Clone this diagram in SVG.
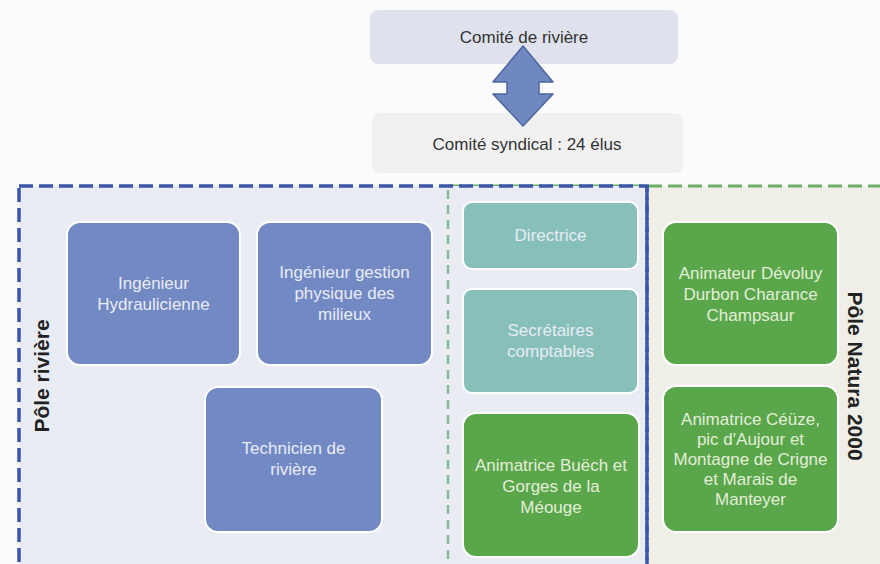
<svg xmlns="http://www.w3.org/2000/svg" width="880" height="564" viewBox="0 0 880 564">
<defs>
<style>
.t{font-family:"Liberation Sans",Arial,sans-serif;font-size:17px;text-anchor:middle}
.w{fill:#e8ecf5}
.g{fill:#e3eed9}
.d{fill:#333}
.lbl{font-family:"Liberation Sans",Arial,sans-serif;font-size:21px;font-weight:bold;fill:#222;text-anchor:middle}
.nb{fill:#7389c3;stroke:#fff;stroke-width:2}
.nt{fill:#86c0b8;stroke:#fff;stroke-width:2}
.ng{fill:#5aa64a;stroke:#fff;stroke-width:2}
</style>
</defs>
<rect width="880" height="564" fill="#fbfbfb"/>
<g id="regions">
<rect x="448" y="186" width="450" height="400" fill="#efefe7" stroke="#6cb064" stroke-width="3" stroke-dasharray="14 6"/>
<rect x="19" y="186" width="628" height="400" fill="#e9ecf3" stroke="#3c56a8" stroke-width="3.5" stroke-dasharray="14 6"/>
<line x1="448" y1="190" x2="448" y2="564" stroke="#86bd98" stroke-width="2.5" stroke-dasharray="9 6"/>
<line x1="647" y1="186" x2="647" y2="564" stroke="#3c56a8" stroke-width="3.5" stroke-dasharray="14 6"/>
</g>
<g id="comite-riviere">
<rect x="370" y="10" width="308" height="54" rx="8" fill="#dfe2ec"/>
<text class="t d" x="524" y="43">Comité de rivière</text>
</g>
<g id="comite-syndical">
<rect x="372" y="113" width="311" height="60" rx="8" fill="#f0f0f1"/>
<text class="t d" x="527" y="150">Comité syndical : 24 élus</text>
</g>
<g id="connectors">
<path d="M523 46 L553 82 L539 82 L539 94 L553 94 L523 126 L493 94 L507 94 L507 82 L493 82 Z" fill="#7088c0" stroke="#4c659c" stroke-width="1.5" stroke-linejoin="round"/>
</g>
<g id="pole-riviere">
<text class="lbl" transform="translate(49,376) rotate(-90)">Pôle rivière</text>
</g>
<g id="pole-natura">
<text class="lbl" transform="translate(848,376) rotate(90)">Pôle Natura 2000</text>
</g>
<g id="ing-hydro">
<rect class="nb" x="67" y="222" width="173" height="143" rx="13"/>
<text class="t w" x="153.5" y="289">Ingénieur</text>
<text class="t w" x="153.5" y="310">Hydraulicienne</text>
</g>
<g id="ing-gestion">
<rect class="nb" x="257" y="222" width="175" height="143" rx="13"/>
<text class="t w" x="344.5" y="278">Ingénieur  gestion</text>
<text class="t w" x="344.5" y="299">physique des</text>
<text class="t w" x="344.5" y="320">milieux</text>
</g>
<g id="technicien">
<rect class="nb" x="205" y="387" width="177" height="145" rx="13"/>
<text class="t w" x="293.5" y="454">Technicien de</text>
<text class="t w" x="293.5" y="475">rivière</text>
</g>
<g id="directrice">
<rect class="nt" x="463" y="202" width="175" height="67" rx="9"/>
<text class="t w" x="550.5" y="241">Directrice</text>
</g>
<g id="secretaires">
<rect class="nt" x="463" y="289" width="175" height="104" rx="9"/>
<text class="t w" x="550.5" y="336">Secrétaires</text>
<text class="t w" x="550.5" y="357">comptables</text>
</g>
<g id="animatrice-buech">
<rect class="ng" x="463" y="413" width="176" height="144" rx="13"/>
<text class="t g" x="551" y="471">Animatrice Buëch et</text>
<text class="t g" x="551" y="492">Gorges de la</text>
<text class="t g" x="551" y="513">Méouge</text>
</g>
<g id="animateur-devoluy">
<rect class="ng" x="663" y="222" width="175" height="143" rx="13"/>
<text class="t g" x="750.5" y="279">Animateur Dévoluy</text>
<text class="t g" x="750.5" y="300">Durbon Charance</text>
<text class="t g" x="750.5" y="321">Champsaur</text>
</g>
<g id="animatrice-ceuze">
<rect class="ng" x="663" y="386" width="175" height="146" rx="13"/>
<text class="t g" x="750.5" y="425">Animatrice Céüze,</text>
<text class="t g" x="750.5" y="445">pic d'Aujour et</text>
<text class="t g" x="750.5" y="465">Montagne de Crigne</text>
<text class="t g" x="750.5" y="485">et Marais de</text>
<text class="t g" x="750.5" y="505">Manteyer</text>
</g>
</svg>
